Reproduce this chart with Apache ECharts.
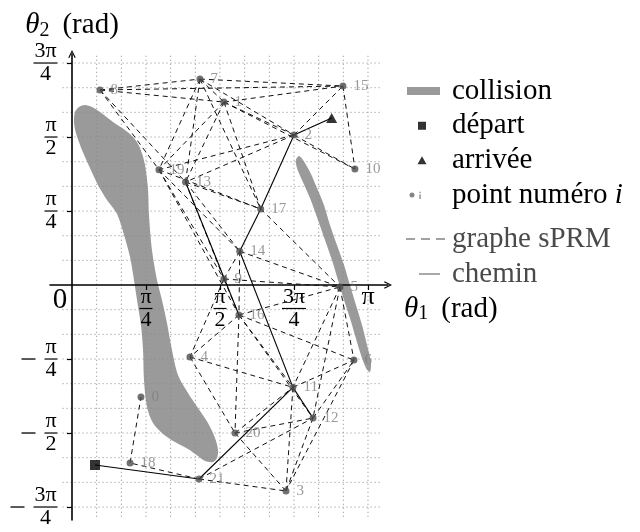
<!DOCTYPE html>
<html><head><meta charset="utf-8">
<script src="https://cdn.jsdelivr.net/npm/echarts@6/dist/echarts.min.js"></script>
<style>html,body{margin:0;padding:0;background:#fff}#c{width:640px;height:532px}</style>
</head><body><div id="c"></div>
<script>
// ---- data (radians) ----
const nodeX = [0.732, 1.613, 2.356, 2.271, 1.252, 2.844, 2.993, 1.358, 0.297, 1.613, 3.003,
               2.345, 2.558, 1.205, 1.780, 2.876, 1.772, 2.003, 0.616, 0.923, 1.730, 1.348];
const nodeY = [-1.189, 1.942, 1.592, -2.186, -0.764, -0.021, -0.797, 2.186, 2.070, 0.064, 1.231,
               -1.086, -1.412, 1.093, 0.358, 2.112, -0.318, 0.807, -1.889, 1.224, -1.571, -2.059];
const startPt = [0.244, -1.910];
const goalPt = [2.756, 1.772];
const edges = [[8,7],[8,1],[8,15],[7,15],[1,15],[7,1],[7,2],[1,2],[2,15],[15,10],[2,10],[1,10],
  [8,19],[8,13],[7,19],[7,13],[1,19],[1,13],[2,19],[2,13],[1,17],[7,17],[13,17],[19,17],
  [19,9],[13,9],[19,14],[13,14],[19,16],[9,14],[9,16],[14,16],
  [9,5],[14,5],[17,5],[16,5],[5,6],[5,11],[5,12],[16,6],[16,11],[16,12],[16,20],[16,4],[9,4],
  [4,11],[4,20],[11,6],[12,6],[6,3],[11,3],[12,3],[20,11],[20,12],[20,3],[21,12],[21,3],[21,18],[18,0]];
const pathSeq = ['S', 21, 11, 14, 17, 2, 'G'];
const extraSolid = [[13, 16], [11, 12]];
const collisionLeft = [[0.032,1.836],[0.074,1.889],[0.138,1.910],[0.212,1.889],[0.297,1.836],
  [0.435,1.730],[0.562,1.645],[0.658,1.560],[0.722,1.454],[0.775,1.274],[0.807,1.008],
  [0.817,0.743],[0.849,0.371],[0.902,0.053],[0.955,-0.159],[1.008,-0.403],[1.061,-0.690],
  [1.125,-0.955],[1.231,-1.146],[1.337,-1.305],[1.443,-1.465],[1.518,-1.624],[1.550,-1.751],
  [1.539,-1.836],[1.496,-1.879],[1.412,-1.868],[1.337,-1.815],[1.231,-1.741],[1.093,-1.666],
  [0.966,-1.581],[0.860,-1.465],[0.796,-1.295],[0.764,-1.008],[0.754,-0.690],[0.732,-0.425],
  [0.690,-0.159],[0.658,0.053],[0.616,0.297],[0.552,0.531],[0.478,0.754],[0.371,0.902],
  [0.276,1.061],[0.191,1.242],[0.106,1.433],[0.042,1.613],[0.021,1.730]];
const collisionRight = [[2.377,1.327],[2.409,1.369],[2.452,1.327],[2.526,1.199],[2.600,1.029],
  [2.674,0.849],[2.738,0.637],[2.812,0.425],[2.887,0.212],[2.950,0.000],[3.014,-0.212],
  [3.078,-0.425],[3.131,-0.637],[3.173,-0.817],[3.163,-0.923],[3.120,-0.881],[3.057,-0.711],
  [3.003,-0.531],[2.950,-0.350],[2.887,-0.159],[2.823,0.053],[2.759,0.265],[2.685,0.478],
  [2.611,0.690],[2.526,0.923],[2.441,1.114],[2.388,1.242]];
const PI = Math.PI;
const xTickVals = [PI/4, PI/2, 3*PI/4, PI];
const xLabelVals = [0, PI/4, PI/2, 3*PI/4, PI];
const xLabelText = ['0', 'π/4', 'π/2', '3π/4', 'π'];
const yTickVals = [-3*PI/4, -PI/2, -PI/4, PI/4, PI/2, 3*PI/4];
const yLabelText = ['−3π/4', '−π/2', '−π/4', 'π/4', 'π/2', '3π/4'];
const gridStepsX = [1,2,3,4,5,6,7,8,9,10,11,12];           // multiples of π/12
const gridStepsY = [-9,-8,-7,-6,-5,-4,-3,-2,-1,1,2,3,4,5,6,7,8,9];
const gridXRange = [-0.1, 3.27];
const gridYRange = [-2.46, 2.44];

// ---- helpers ----
const FF = 'Liberation Serif';
function pt(k) { return k === 'S' ? startPt : k === 'G' ? goalPt : [nodeX[k], nodeY[k]]; }
function lookup(v, vals, texts) {
  for (let i = 0; i < vals.length; i++) if (Math.abs(vals[i] - v) < 1e-6) return texts[i];
  return '';
}
function fracLabel(txt) {
  if (!txt) return '';
  if (txt === '0') return '{z|0}';
  if (txt.indexOf('/') < 0) return '{p|' + txt + '}';
  const neg = txt[0] === '−';
  const t = neg ? txt.slice(1) : txt;
  const parts = t.split('/');
  const w = parts[0].length > 1 ? 'b' : 'a';
  return (neg ? '{mb|}' : '') + '{n' + w + '|' + parts[0] + '}\n' +
         (neg ? '{mm|}{gp|}' : '') + '{b' + w + '|}\n' +
         (neg ? '{mb|}' : '') + '{n' + w + '|' + parts[1] + '}';
}
const fracRich = {
  na: {fontFamily: FF, fontSize: 22, lineHeight: 18, width: 14, align: 'center', color: '#000'},
  nb: {fontFamily: FF, fontSize: 22, lineHeight: 18, width: 25, align: 'center', color: '#000'},
  ba: {width: 13, height: 1.2, lineHeight: 5, backgroundColor: '#000', align: 'center'},
  bb: {width: 24, height: 1.2, lineHeight: 5, backgroundColor: '#000', align: 'center'},
  mm: {width: 14, height: 1.3, lineHeight: 5, backgroundColor: '#000', align: 'center'},
  gp: {width: 9, lineHeight: 5, align: 'center'},
  mb: {width: 23, lineHeight: 18, align: 'center'},
  z: {fontFamily: FF, fontSize: 29, lineHeight: 24, padding: [0, 24, 0, 0], color: '#000'},
  p: {fontFamily: FF, fontSize: 26, lineHeight: 18, color: '#000'}
};
const nameRich = {
  t: {fontFamily: FF, fontSize: 29, fontStyle: 'italic', lineHeight: 30, color: '#000'},
  s: {fontFamily: FF, fontSize: 20, lineHeight: 16, verticalAlign: 'bottom', color: '#000'},
  sp: {width: 13, lineHeight: 30},
  r: {fontFamily: FF, fontSize: 29, lineHeight: 30, color: '#000'}
};
const arrow = 'path://M0,10L5,0L10,10L8.6,10.8L5,3L1.4,10.8Z';
const corners = 'M0,0h0.01v0.01z M42,14h-0.01v-0.01z ';
const icons = {
  collision: 'path://' + corners + 'M2,3h33v8h-33z',
  depart: 'path://' + corners + 'M13,3h8v8h-8z',
  arrivee: 'path://' + corners + 'M17,2.8L21.5,10.8L12.5,10.8z',
  point: 'path://' + corners + 'M4.5,7a2.5,2.5 0 1,0 5,0a2.5,2.5 0 1,0 -5,0z M14.4,6.2h1.3v4.8h-1.3z M14.4,3.7h1.3v1.3h-1.3z',
  graphe: 'path://' + corners + 'M1,6.4h9v1.2h-9z M16,6.4h9v1.2h-9z M31,6.4h9v1.2h-9z',
  chemin: 'path://' + corners + 'M14,6.4h21v1.2h-21z'
};
const polys = [collisionLeft, collisionRight];

// grid: x from -0.2335 (px 50) to 3.354 (px 388); y from -2.494 (px 520) to 2.452 (px 54)
const chart = echarts.init(document.getElementById('c'), null, {renderer: 'canvas'});
chart.setOption({
  animation: false,
  backgroundColor: '#fff',
  grid: {left: 50, right: 252, top: 54, bottom: 12, containLabel: false, outerBoundsMode: 'none'},
  xAxis: {
    type: 'value', min: -0.2335, max: 3.354, z: 3, position: 'bottom', offset: -235,
    name: '{t|θ}{s|1}{sp|}{r|(rad)}', nameLocation: 'end', nameGap: 16,
    nameTextStyle: {rich: nameRich, verticalAlign: 'top', align: 'left', padding: [9, 0, 0, 0]},
    axisLine: {onZero: false, symbol: ['none', arrow], symbolSize: [10, 8],
      lineStyle: {color: '#000', width: 1.6}},
    axisTick: {show: true, customValues: xTickVals, length: 5, lineStyle: {color: '#000', width: 1.2}},
    axisLabel: {customValues: xLabelVals, margin: 3, rich: fracRich, hideOverlap: false,
      formatter: v => fracLabel(lookup(v, xLabelVals, xLabelText))},
    splitLine: {show: false}
  },
  yAxis: {
    type: 'value', min: -2.494, max: 2.452, z: 3, position: 'left', offset: -22,
    name: '{t|θ}{s|2}{sp|}{r|(rad)}', nameLocation: 'end', nameGap: 13,
    nameTextStyle: {rich: nameRich, align: 'center', verticalAlign: 'bottom'},
    axisLine: {onZero: false, symbol: ['none', arrow], symbolSize: [10, 8],
      lineStyle: {color: '#000', width: 1.6}},
    axisTick: {show: true, customValues: yTickVals, length: 5, lineStyle: {color: '#000', width: 1.2}},
    axisLabel: {customValues: yTickVals, margin: 14, rich: fracRich, hideOverlap: false,
      formatter: v => fracLabel(lookup(v, yTickVals, yLabelText))},
    splitLine: {show: false}
  },
  legend: [{
    left: 400, top: 71, orient: 'vertical', itemWidth: 42, itemHeight: 14, itemGap: 4.7,
    selectedMode: false, itemStyle: {borderWidth: 0},
    textStyle: {fontFamily: FF, fontSize: 29, lineHeight: 30, color: '#000',
      rich: {a: {fontFamily: FF, fontSize: 29, lineHeight: 30, color: '#000'},
             i: {fontFamily: FF, fontSize: 29, lineHeight: 30, fontStyle: 'italic', color: '#000'}}},
    formatter: n => n === 'point numéro i' ? '{a|point numéro }{i|i}' : '{a|' + n + '}',
    data: [
      {name: 'collision', icon: icons.collision, itemStyle: {color: '#9a9a9a'}},
      {name: 'départ', icon: icons.depart, itemStyle: {color: '#000'}},
      {name: 'arrivée', icon: icons.arrivee, itemStyle: {color: '#000'}},
      {name: 'point numéro i', icon: icons.point, itemStyle: {color: '#666'}}
    ]
  }, {
    left: 400, top: 219, orient: 'vertical', itemWidth: 42, itemHeight: 14, itemGap: 5,
    selectedMode: false, itemStyle: {borderWidth: 0},
    textStyle: {fontFamily: FF, fontSize: 29, lineHeight: 30, color: '#4a4a4a'},
    data: [
      {name: 'graphe sPRM', icon: icons.graphe, itemStyle: {color: '#444'}},
      {name: 'chemin', icon: icons.chemin, itemStyle: {color: '#555'}}
    ]
  }],
  series: [
    {
      name: 'collision', type: 'custom', z: 1, silent: true,
      itemStyle: {color: '#9a9a9a'},
      data: polys.map((p, i) => [p[0][0], p[0][1], i]),
      renderItem: (params, api) => ({
        type: 'polygon',
        shape: {points: polys[params.dataIndex].map(q => api.coord(q)), smooth: 0.3},
        style: {fill: '#9a9a9a'}
      })
    },
    {
      name: 'gridV', type: 'custom', z: 2, silent: true,
      data: gridStepsX.map(k => [k * PI / 12, 0]),
      renderItem: (params, api) => {
        const a = api.coord([api.value(0), gridYRange[0]]);
        const b = api.coord([api.value(0), gridYRange[1]]);
        return {type: 'line', shape: {x1: a[0], y1: a[1], x2: b[0], y2: b[1]},
          style: {stroke: '#8a8a8a', lineWidth: 1, lineDash: [1, 3]}};
      }
    },
    {
      name: 'gridH', type: 'custom', z: 2, silent: true,
      data: gridStepsY.map(k => [0, k * PI / 12]),
      renderItem: (params, api) => {
        const a = api.coord([gridXRange[0], api.value(1)]);
        const b = api.coord([gridXRange[1], api.value(1)]);
        return {type: 'line', shape: {x1: a[0], y1: a[1], x2: b[0], y2: b[1]},
          style: {stroke: '#8a8a8a', lineWidth: 1, lineDash: [1, 3]}};
      }
    },
    {
      name: 'graphe sPRM', type: 'lines', coordinateSystem: 'cartesian2d', z: 4, silent: true,
      itemStyle: {color: '#111'},
      lineStyle: {color: '#111', width: 1, type: [5, 4], opacity: 1},
      data: edges.map(e => ({coords: [pt(e[0]), pt(e[1])]}))
    },
    {
      name: 'chemin', type: 'lines', coordinateSystem: 'cartesian2d', z: 5, silent: true,
      itemStyle: {color: '#000'},
      lineStyle: {color: '#000', width: 1.1, type: 'solid', opacity: 1},
      data: pathSeq.slice(1).map((k, i) => ({coords: [pt(pathSeq[i]), pt(k)]}))
        .concat(extraSolid.map(e => ({coords: [pt(e[0]), pt(e[1])]})))
    },
    {
      name: 'point numéro i', type: 'scatter', z: 6, symbol: 'circle', symbolSize: 7,
      itemStyle: {color: '#4d4d4d'},
      label: {show: true, position: 'right', distance: 7, formatter: p => String(p.value[2]),
        fontFamily: FF, fontSize: 15, color: '#808080'},
      data: nodeX.map((x, i) => [x, nodeY[i], i])
    },
    {
      name: 'départ', type: 'scatter', z: 7, symbol: 'rect', symbolSize: 10,
      itemStyle: {color: '#000'}, data: [startPt]
    },
    {
      name: 'arrivée', type: 'scatter', z: 7, symbol: 'triangle', symbolSize: [11, 10],
      itemStyle: {color: '#000'}, data: [goalPt]
    }
  ]
});
</script>
</body></html>
